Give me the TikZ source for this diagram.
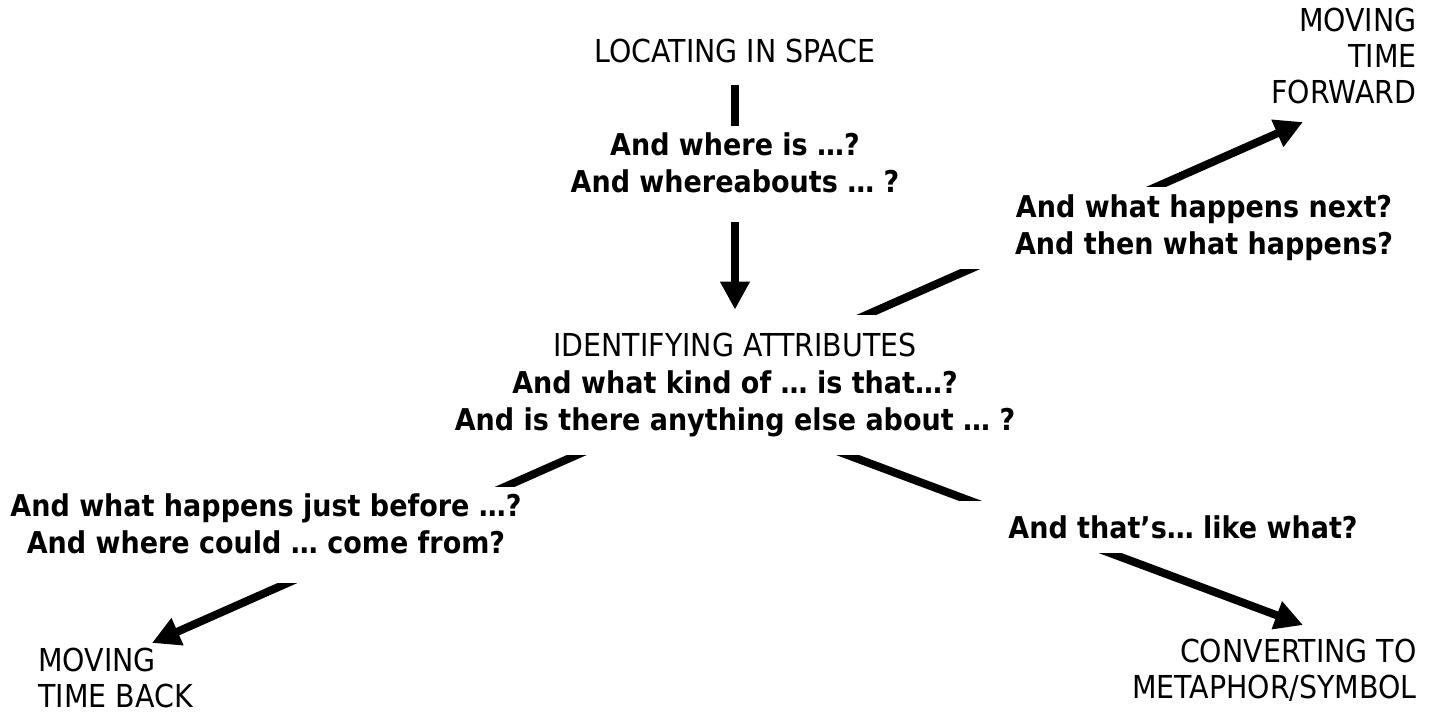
\documentclass[tikz,border=0pt]{standalone}
\usepackage{fontspec}
\setmainfont{DejaVu Sans}[FakeStretch=0.9]
\usetikzlibrary{arrows.meta,positioning,backgrounds}

\newcommand{\qfont}{\fontsize{15}{18.5}\selectfont\bfseries}
\tikzset{
  stage/.style={inner sep=0pt,font=\fontsize{15.8}{18}\selectfont},
  quest/.style={fill=white,align=center,inner sep=0pt,font=\qfont},
  arr/.style={line width=4pt,-{Triangle[length=14pt,width=14pt]}}
}

\begin{document}
\begin{tikzpicture}[shorten >=2.5pt,on grid]
  \useasboundingbox (-367.5pt,-164.5pt) rectangle (350pt,192.5pt);
  % centre of the map
  \node[stage,fill=white,align=center,minimum height=70pt,font=\fontsize{15.8}{18.5}\selectfont] (ident) at (0,0)
    {IDENTIFYING ATTRIBUTES\\ {\qfont And what kind of … is that…?}\\ {\qfont And is there anything else about … ?}};
  \node[stage,fill=white,minimum height=34pt] (locate) [above=167pt of ident] {LOCATING IN SPACE};
  \node[quest,inner ysep=3.5pt] (where) [below=61.5pt of locate]
    {And where is …?\\ And whereabouts … ?\rule[-11pt]{0pt}{11pt}};
  \node[quest,minimum height=41pt,minimum width=254pt] (next) [above right=78.5pt and 234.5pt of ident]
    {And what happens next?\\ And then what happens?};
  \node[quest,minimum height=26pt,minimum width=223pt] (that) [below right=71pt and 224pt of ident]
    {And that’s… like what?};
  \node[quest,inner ysep=3.5pt] (before) [below left=75pt and 234.5pt of ident]
    {And what happens just before …?\\ And where could … come from?\rule[-11pt]{0pt}{11pt}};
  % where the questions lead
  \node[stage,align=right] (fwd) [above right=188.5pt and 341pt of ident,anchor=north east] {MOVING\\ TIME\\ FORWARD};
  \node[stage,align=left] (back) [below left=131.5pt and 348.5pt of ident,anchor=north west] {MOVING\\ TIME BACK};
  \node[stage,align=right] (conv) [below right=127pt and 341pt of ident,anchor=north east] {CONVERTING TO\\ METAPHOR/SYMBOL};
  \coordinate (fwdtip) at ([shift={(-54.75pt,-56pt)}]fwd.north east);
  \coordinate (backtip) at ([shift={(54.7pt,1.5pt)}]back.north west);
  \coordinate (convtip) at ([shift={(-54.65pt,6.1pt)}]conv.north east);
  \begin{scope}[on background layer]
    \path[arr]
      (locate) edge (ident)
      ([yshift=6pt]ident.center) edge (fwdtip)
      (ident.center) edge (backtip)
      ([yshift=-14pt]ident.center) edge (convtip);
  \end{scope}
\end{tikzpicture}
\end{document}
